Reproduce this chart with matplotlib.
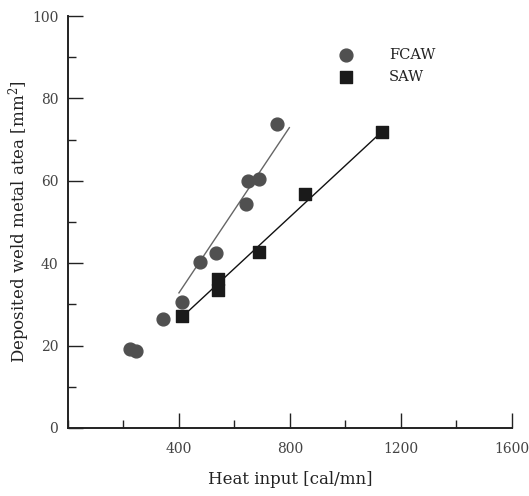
import numpy as np
import matplotlib
matplotlib.use("Agg")
import matplotlib.pyplot as plt
from matplotlib.ticker import MultipleLocator

plt.rcParams['font.family'] = ['DejaVu Serif']
plt.rcParams['mathtext.fontset'] = 'dejavuserif'

# FCAW data points
fcaw_x = [225, 245, 341, 410, 476, 533, 641, 648, 689, 752]
fcaw_y = [19.2, 18.8, 26.4, 30.5, 40.2, 42.5, 54.4, 60.0, 60.5, 73.8]
# SAW data points
saw_x = [410, 542, 542, 690, 854, 1131]
saw_y = [27.2, 33.4, 36.1, 42.8, 56.7, 71.9]

# trend lines (end points)
fcaw_fit_x = [400, 798]
fcaw_fit_y = [32.8, 72.9]
saw_fit_x = [425, 1131]
saw_fit_y = [27.8, 71.9]

fig = plt.figure(figsize=(5.29, 4.96), dpi=100)
ax = fig.add_axes([0.1285, 0.1371, 0.839, 0.8306])

ax.plot(fcaw_fit_x, fcaw_fit_y, color='#666666', lw=1.0, zorder=1)
ax.plot(saw_fit_x, saw_fit_y, color='#111111', lw=1.0, zorder=1)
ax.scatter(fcaw_x, fcaw_y, s=85, marker='o', color='#505050', zorder=2,
           label='FCAW')
ax.scatter(saw_x, saw_y, s=75, marker='s', color='#1a1a1a', zorder=2,
           label='SAW')

ax.set_xlim(0, 1600)
ax.set_ylim(0, 100)
ax.set_xticks([400, 800, 1200, 1600])
ax.xaxis.set_minor_locator(MultipleLocator(200))
ax.set_yticks([0, 20, 40, 60, 80, 100])
ax.yaxis.set_minor_locator(MultipleLocator(10))

for s in ['top', 'right']:
    ax.spines[s].set_visible(False)
for s in ['left', 'bottom']:
    ax.spines[s].set_linewidth(1.4)
    ax.spines[s].set_color('#222222')

ax.tick_params(which='major', direction='in', length=11, width=1.0,
               labelsize=10, colors='#222222', labelcolor='#444444')
ax.tick_params(which='minor', direction='in', length=5.5, width=1.0,
               colors='#222222')
ax.tick_params(axis='x', pad=10)
ax.tick_params(axis='y', pad=7)

ax.set_xlabel('Heat input [cal/mn]', fontsize=12, color='#222222')
ax.set_ylabel('Deposited weld metal atea [mm$^2$]', fontsize=12,
              color='#222222')
ax.xaxis.set_label_coords(0.5, -0.105)
ax.yaxis.set_label_coords(-0.08, 0.5)

leg = ax.legend(loc='upper left', bbox_to_anchor=(0.565, 0.955), frameon=False,
                fontsize=10.5, handletextpad=1.9, labelspacing=0.55,
                scatterpoints=1)
for t in leg.get_texts():
    t.set_color('#222222')

fig.savefig('out.png', dpi=100)
